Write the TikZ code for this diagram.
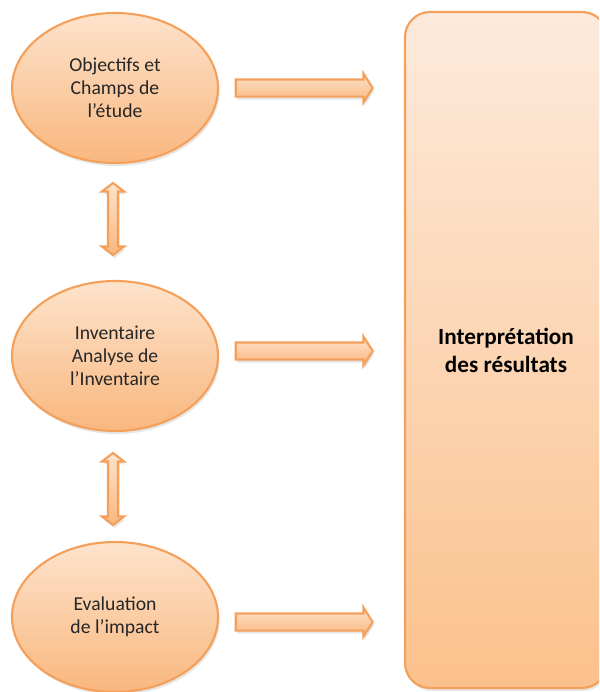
\documentclass[tikz,border=0pt]{standalone}
\usepackage{fontspec}
\setmainfont{Carlito}
\usetikzlibrary{shapes.geometric,shapes.arrows,shadows}
\definecolor{peachline}{HTML}{F5A05A}
\definecolor{peachtop}{HTML}{FDE3CC}
\definecolor{peachbottom}{HTML}{F9B77E}
\definecolor{boxtop}{HTML}{FDEADC}
\definecolor{boxbottom}{HTML}{FBC18C}
\tikzset{
  softshadow/.style={drop shadow={opacity=.2,shadow xshift=.015cm,shadow yshift=-.03cm}},
  stage/.style={ellipse,draw=peachline,line width=.6pt,top color=peachtop,bottom color=peachbottom,
    minimum width=2.06cm,minimum height=1.5cm,inner sep=0pt,align=center,text=black!85,
    font=\fontsize{5.6pt}{6.6pt}\selectfont,softshadow},
  flow/.style={single arrow,draw=peachline,line width=.6pt,top color=peachtop,bottom color=peachbottom,
    minimum height=1.37cm,inner xsep=0pt,inner ysep=.075cm,single arrow head extend=.06cm,
    single arrow tip angle=115,softshadow},
  link/.style={double arrow,shape border rotate=90,draw=peachline,line width=.6pt,
    top color=peachtop,bottom color=peachbottom,minimum height=.72cm,inner sep=.04cm,
    double arrow head extend=.06cm,double arrow tip angle=105,softshadow},
  result/.style={rectangle,rounded corners=.25cm,draw=peachline,line width=.6pt,top color=boxtop,
    bottom color=boxbottom,minimum width=2.02cm,minimum height=6.76cm,align=center,
    font=\fontsize{6.6pt}{8pt}\selectfont\bfseries,softshadow}
}
\begin{document}
\begin{tikzpicture}
\path[use as bounding box,clip] (0,0) rectangle (5.99,6.92);

\node (interp) at (5.06,3.42) [result] {Interprétation\\des résultats};

\node (objectifs) at (1.15,6.04) [stage] {Objectifs et\\Champs de\\l’étude};
\node (inventaire) at (1.15,3.36) [stage] {Inventaire\\Analyse de\\l’Inventaire};
\node (evaluation) at (1.15,.75) [stage] {Evaluation\\de l’impact};

\node (flowA) at (3.015,6.04) [flow] {};
\node (flowB) at (3.015,3.41) [flow] {};
\node (flowC) at (3.015,.70) [flow] {};

\node (linkA) at (1.13,4.73) [link] {};
\node (linkB) at (1.13,2.03) [link] {};
\end{tikzpicture}
\end{document}
